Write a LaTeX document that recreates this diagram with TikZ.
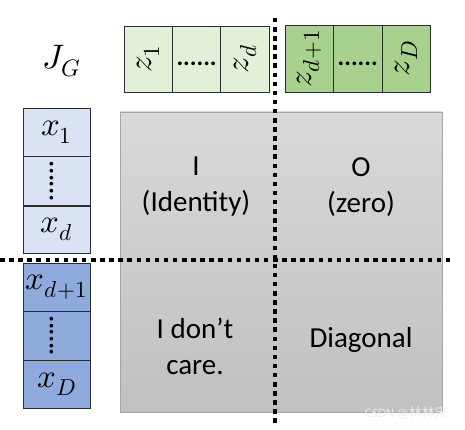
\documentclass[tikz,border=0pt]{standalone}
\usepackage{fontspec}
\usepackage{unicode-math}
\setmainfont{Carlito}
\newfontfamily\cjkfont{Noto Sans CJK SC}
\definecolor{lgreen}{RGB}{226,240,217}
\definecolor{dgreen}{RGB}{169,209,142}
\definecolor{lblue}{RGB}{218,227,243}
\definecolor{dblue}{RGB}{143,170,220}
\definecolor{celledge}{RGB}{45,45,45}
\definecolor{boxtop}{RGB}{217,217,217}
\definecolor{boxbot}{RGB}{192,192,192}
\definecolor{boxedge}{RGB}{165,165,165}
\definecolor{wmark}{RGB}{236,236,236}
\tikzset{
  hcell/.style={draw=celledge, line width=0.8pt, inner sep=0pt, minimum width=48.4pt, minimum height=66pt},
  vcell/.style={draw=celledge, line width=0.8pt, inner sep=0pt, minimum width=67pt, minimum height=48.5pt},
  mathlbl/.style={font=\fontsize{33}{36}\selectfont, inner sep=0pt},
  quad/.style={font=\fontsize{29}{36}\selectfont, align=center, text=black},
  dotsep/.style={line width=4.2pt, dash pattern=on 4.5pt off 4.6pt, black},
  dotstxt/.style={font=\fontsize{25}{25}\selectfont\bfseries, inner sep=0pt}
}
\begin{document}
\begin{tikzpicture}[x=1pt,y=-1pt]
\useasboundingbox (0,0) rectangle (465,430);
% big gray matrix
\node[draw=boxedge, line width=0.8pt, top color=boxtop, bottom color=boxbot, minimum width=322pt, minimum height=300pt, inner sep=0pt] (mat) at (281,262) {};
% J_G
\node[font=\fontsize{34}{36}\selectfont, inner sep=0pt] (jg) at (62,61) {$J_G$};
% green top cells
\node[hcell, fill=lgreen] (z1) at (148.2,59) {};
\node[hcell, fill=lgreen] (zdots1) at (196.6,59) {};
\node[hcell, fill=lgreen] (zd) at (245,59) {};
\node[hcell, fill=dgreen, minimum height=67pt] (zd1) at (309.3,58.5) {};
\node[hcell, fill=dgreen, minimum height=67pt] (zdots2) at (357.7,58.5) {};
\node[hcell, fill=dgreen, minimum height=67pt] (zD) at (406.6,58.5) {};
\node[mathlbl, rotate=90] at (z1) {$z_1$};
\node[dotstxt] at ([yshift=-5pt]zdots1.center) {......};
\node[mathlbl, rotate=90] at (zd) {$z_d$};
\node[mathlbl, rotate=90] at (zd1) {$z_{d+1}$};
\node[dotstxt] at ([yshift=-5pt]zdots2.center) {......};
\node[mathlbl, rotate=90] at (zD) {$z_D$};
% blue left cells
\node[vcell, fill=lblue] (x1) at (56.5,132.5) {};
\node[vcell, fill=lblue] (xdots1) at (56.5,181) {};
\node[vcell, fill=lblue, minimum height=47pt] (xd) at (56.5,229.5) {};
\node[vcell, fill=dblue] (xd1) at (56.5,287.3) {};
\node[vcell, fill=dblue] (xdots2) at (56.5,335.8) {};
\node[vcell, fill=dblue] (xD) at (56.5,384.3) {};
\node[mathlbl] at (x1) {$x_1$};
\node[dotstxt, rotate=90] at ([xshift=-5pt]xdots1.center) {......};
\node[mathlbl] at (xd) {$x_d$};
\node[mathlbl] at (xd1) {$x_{d+1}$};
\node[dotstxt, rotate=90] at ([xshift=-5pt]xdots2.center) {......};
\node[mathlbl] at (xD) {$x_D$};
% quadrant labels
\node[quad] (qI) at (196,187) {I\\(Identity)};
\node[quad] (qO) at (361,187) {O\\(zero)};
\node[quad] (qC) at (195,346) {I don’t\\care.};
\node[quad] (qD) at (361,340) {Diagonal};
% dotted separators
\coordinate (vtop) at (275,18);
\coordinate (vbot) at (275,424);
\coordinate (hleft) at (0,260);
\coordinate (hright) at (452,260);
\draw[dotsep] (vtop) -- (vbot);
\draw[dotsep] (hleft) -- (hright);
% watermark
\node[font=\fontsize{13}{14}\selectfont, text=wmark, anchor=east, inner sep=0pt] (wm) at (448,413) {CSDN @{\cjkfont 林林宋}};
\end{tikzpicture}
\end{document}
